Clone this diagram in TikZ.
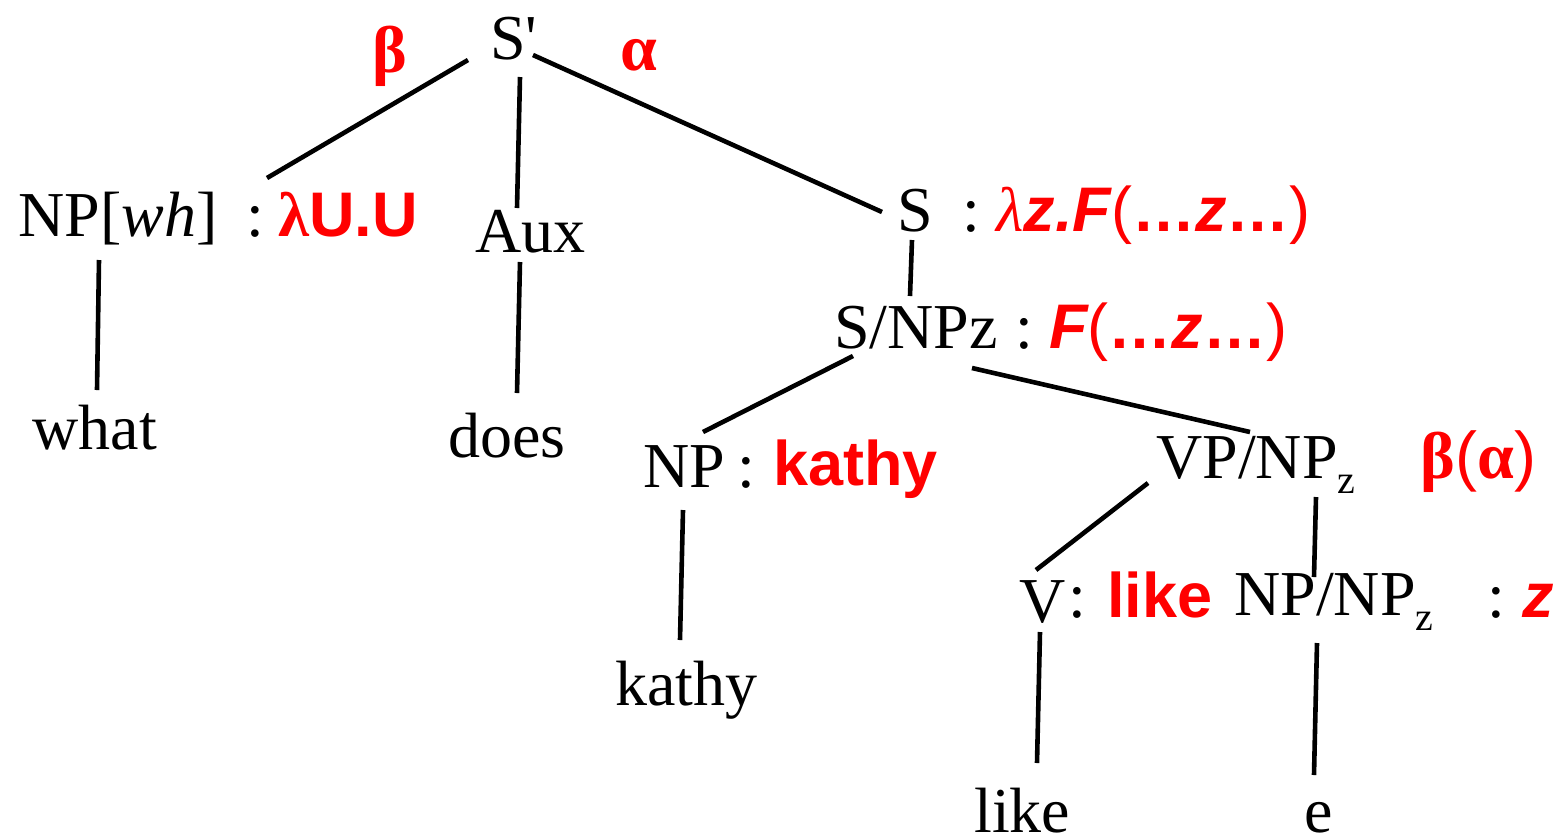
\documentclass[tikz,border=0pt]{standalone}
\usepackage{fontspec}
\setmainfont{Liberation Serif}[Ligatures=TeXOff]
\newfontfamily\rsans{Liberation Sans}
\definecolor{rd}{RGB}{255,0,0}
\newcommand{\bsub}[1]{{\fontsize{20}{20}\selectfont\raisebox{-7.5pt}{#1}}}
\newcommand{\bi}[1]{{\bfseries\itshape #1}}
\newcommand{\rg}[1]{{\mdseries\upshape #1}}
\tikzset{
  lab/.style={inner sep=0pt, anchor=base west, font=\fontsize{32}{38}\selectfont},
  sem/.style={inner sep=0pt, anchor=base west, text=rd, font=\fontsize{31.5}{37}\selectfont\rsans\bfseries},
  gk/.style={inner sep=0pt, anchor=base west, text=rd, font=\fontsize{33}{38}\selectfont\bfseries},
  edge/.style={line width=2.3pt, line cap=butt},
}
\begin{document}
\begin{tikzpicture}[x=0.5pt,y=-0.5pt]
\useasboundingbox (0,0) rectangle (1564,837);
% labels
\node[lab] (sp) at (490,59) {S'};
\node[gk] (beta) at (372,72) {β};
\node[gk] (alpha) at (620,70) {α};
\node[lab] (np1) at (18,236) {NP[\textit{wh}]};
\node[lab] (c1) at (246,236) {:};
\node[sem] (sem1) at (278,236) {{\rmfamily λ}U.U};
\node[lab] (aux) at (475,252) {Aux};
\node[lab] (what) at (32,449) {what};
\node[lab] (does) at (448,457) {does};
\node[lab] (s) at (897,231) {S};
\node[lab] (c2) at (962,231) {:};
\node[sem] (sem2) at (996,231) {{\rmfamily\mdseries\itshape λ}\bi{z.F}\rg{(}…\bi{z}…\rg{)}};
\node[lab] (snp) at (834,348) {S/NPz};
\node[lab] (c3) at (1015,348) {:};
\node[sem] (sem3) at (1049,348) {\bi{F}\rg{(}…\bi{z}…\rg{)}};
\node[lab] (np2) at (643,487) {NP};
\node[lab] (c4) at (737,487) {:};
\node[sem] (sem4) at (773,485) {kathy};
\node[lab] (vp) at (1156,478) {VP/NP\bsub{z}};
\node[gk] (ba) at (1420,478) {β{\rsans\mdseries(}α{\rsans\mdseries)}};
\node[lab] (kathy) at (615,705) {kathy};
\node[lab] (v) at (1019,622) {V};
\node[lab] (c5) at (1068,617) {:};
\node[sem] (sem5) at (1107,617) {like};
\node[lab] (npnp) at (1234,615) {NP/NP\bsub{z}};
\node[lab] (c6) at (1487,617) {:};
\node[sem] (sem6) at (1522,617) {\bi{z}};
\node[lab] (like) at (974,832) {like};
\node[lab] (e) at (1304,832) {e};
% connector end points
\coordinate (sp-l) at (468,60);  \coordinate (np1-t) at (267,178);
\coordinate (sp-m) at (520,77);  \coordinate (aux-t) at (517,208);
\coordinate (sp-r) at (533,55);  \coordinate (s-t) at (882,212);
\coordinate (np1-b) at (99,260); \coordinate (what-t) at (97,390);
\coordinate (aux-b) at (520,262); \coordinate (does-t) at (517,393);
\coordinate (s-b) at (912,240);  \coordinate (snp-t) at (910,296);
\coordinate (snp-l) at (853,356); \coordinate (np2-t) at (703,432);
\coordinate (snp-r) at (972,368); \coordinate (vp-t) at (1250,432);
\coordinate (np2-b) at (683,510); \coordinate (kathy-t) at (680,640);
\coordinate (vp-l) at (1148,483); \coordinate (v-t) at (1036,570);
\coordinate (vp-r) at (1316,497); \coordinate (npnp-t) at (1314,577);
\coordinate (v-b) at (1040,632); \coordinate (like-t) at (1037,763);
\coordinate (npnp-b) at (1317,643); \coordinate (e-t) at (1314,775);
% connectors
\draw[edge] (sp-l) -- (np1-t);
\draw[edge] (sp-m) -- (aux-t);
\draw[edge] (sp-r) -- (s-t);
\draw[edge] (np1-b) -- (what-t);
\draw[edge] (aux-b) -- (does-t);
\draw[edge] (s-b) -- (snp-t);
\draw[edge] (snp-l) -- (np2-t);
\draw[edge] (snp-r) -- (vp-t);
\draw[edge] (np2-b) -- (kathy-t);
\draw[edge] (vp-l) -- (v-t);
\draw[edge] (vp-r) -- (npnp-t);
\draw[edge] (v-b) -- (like-t);
\draw[edge] (npnp-b) -- (e-t);
\end{tikzpicture}
\end{document}
